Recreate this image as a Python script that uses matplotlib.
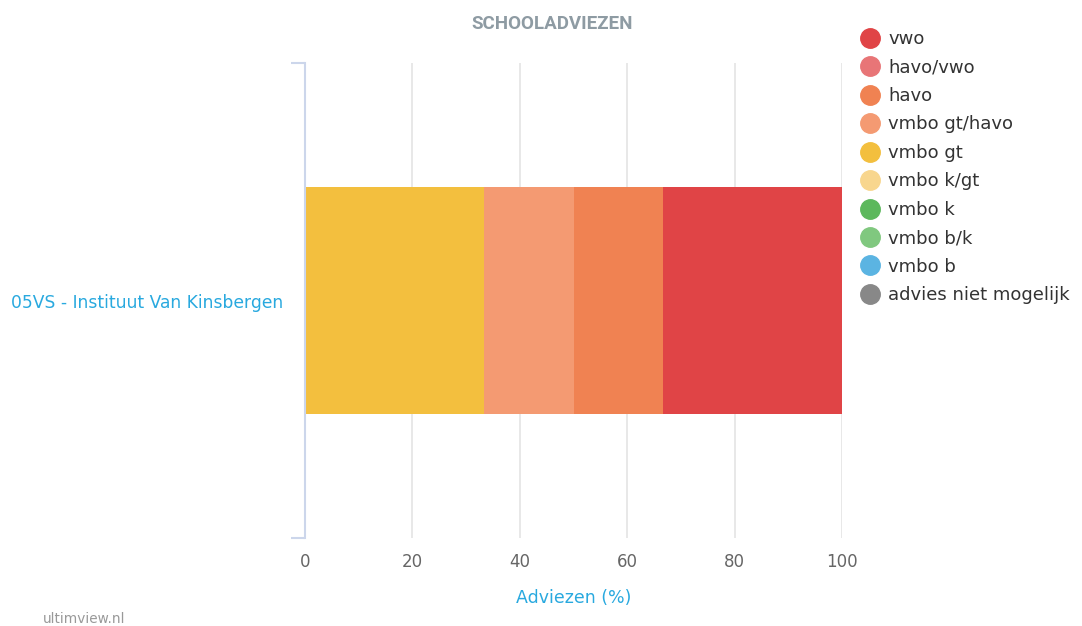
import matplotlib.pyplot as plt
from matplotlib.lines import Line2D
from matplotlib.ticker import FixedLocator

plt.rcParams['font.family'] = ['DejaVu Sans']

# data
school = ['05VS - Instituut Van Kinsbergen']
adviezen = ['vwo', 'havo/vwo', 'havo', 'vmbo gt/havo', 'vmbo gt', 'vmbo k/gt',
            'vmbo k', 'vmbo b/k', 'vmbo b', 'advies niet mogelijk']
percentages = [33.33, 0, 16.67, 16.67, 33.33, 0, 0, 0, 0, 0]
kleuren = ['#e04446', '#e87577', '#f08252', '#f49a72', '#f3bf3e', '#f8d68e',
           '#5cb85c', '#80c87f', '#5bb4e2', '#888888']
xticks = [0, 20, 40, 60, 80, 100]

fig = plt.figure(figsize=(10.82, 6.26), dpi=100)
ax = fig.add_axes([305 / 1082, 1 - 538 / 626, 537 / 1082, 475 / 626])

# highcharts stapelt de eerste serie rechts, dus van achter naar voren tekenen
left = 0
for naam, waarde, kleur in reversed(list(zip(adviezen, percentages, kleuren))):
    ax.barh(0, waarde, left=left, height=0.476, color=kleur, zorder=3)
    left += waarde

ax.set_xlim(0, 100)
ax.set_ylim(-0.5, 0.5)
ax.set_xticks(xticks)
ax.grid(axis='x', color='#e6e6e6', linewidth=1.3, zorder=0)
ax.set_yticks([0])
ax.set_yticklabels(school)
ax.yaxis.set_minor_locator(FixedLocator([-0.5, 0.5]))
ax.tick_params(axis='y', which='major', length=0, pad=16, labelsize=12.3,
               labelcolor='#29a9df')
ax.tick_params(axis='y', which='minor', length=10, width=1.5, color='#ccd6eb')
ax.tick_params(axis='x', length=0, pad=11, labelsize=12, labelcolor='#666666')
for s in ['top', 'right', 'bottom']:
    ax.spines[s].set_visible(False)
ax.spines['left'].set_color('#ccd6eb')
ax.spines['left'].set_linewidth(1.5)
ax.spines['left'].set_zorder(4)

ax.set_xlabel('Adviezen (%)', color='#29a9df', fontsize=12.5, labelpad=13)

fig.text(552 / 1082, 1 - 24 / 626, 'SCHOOLADVIEZEN', family='Roboto',
         fontweight='bold', fontsize=13.5, color='#8e9ba3',
         ha='center', va='center')
fig.text(43 / 1082, 1 - 619 / 626, 'ultimview.nl', fontsize=9.8,
         color='#999999', ha='left', va='center')

handles = [Line2D([], [], linestyle='none', marker='o', markersize=14,
                  markerfacecolor=k, markeredgecolor=k) for k in kleuren]
fig.legend(handles, adviezen, loc='upper left',
           bbox_to_anchor=(861 / 1082, 1 - 30 / 626), frameon=False,
           fontsize=13, labelcolor='#333333', handlelength=1.0,
           handletextpad=0.5, labelspacing=0.58, borderaxespad=0,
           borderpad=0)

fig.savefig('out.png', dpi=100)
